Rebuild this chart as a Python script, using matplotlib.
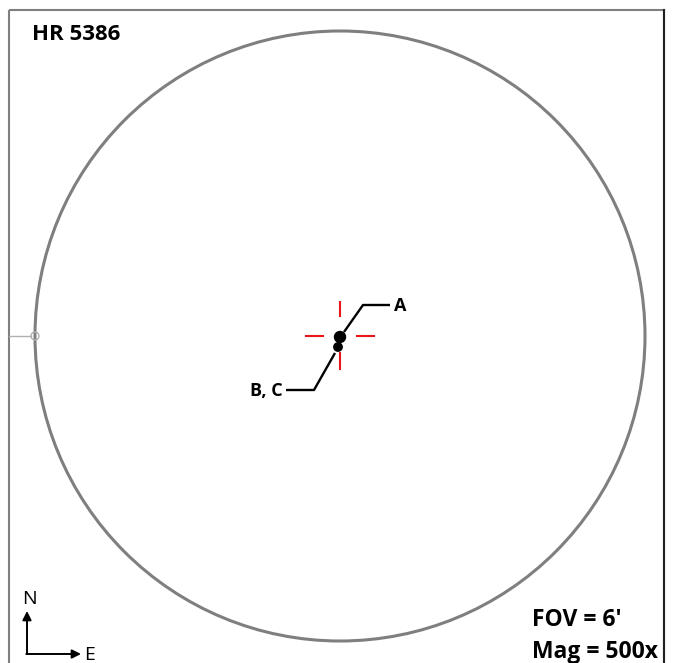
import matplotlib.pyplot as plt
from matplotlib.patches import Circle, Rectangle

# field of view in pixel-like units of the finder chart
fov_center = (340, 336)
fov_radius = 305

# stars: label, x, y, marker radius
star_names = ["A", "B, C"]
star_x = [340, 338]
star_y = [337, 347]
star_size = [5.5, 4.2]

# leader lines (elbow point and end of horizontal part)
leader_elbow = [(363, 305), (314, 390)]
leader_end = [(390, 305), (286, 390)]
leader_start = [(344, 332), (335, 353)]

fig = plt.figure(figsize=(6.73, 6.63), dpi=100)
ax = fig.add_axes([0, 0, 1, 1])
ax.set_xlim(0, 673)
ax.set_ylim(663, 0)
ax.set_aspect('equal')
ax.axis('off')

# frame
ax.add_patch(Rectangle((9, 10), 655, 665, fill=False, ec='#7f7f7f', lw=1.5))
ax.plot([664, 664], [10, 663], color='#222222', lw=1.5)

# eyepiece field
ax.add_patch(Circle(fov_center, fov_radius, fill=False, ec='#7f7f7f', lw=2.2))
ax.add_patch(Circle((fov_center[0] - fov_radius, fov_center[1]), 4, fill=False, ec='#b0b0b0', lw=1))
ax.plot([9, fov_center[0] - fov_radius - 4], [fov_center[1]] * 2, color='#b0b0b0', lw=1)

# red crosshair
cx, cy = fov_center
for x0, x1 in [(-34, -17), (17, 34)]:
    ax.plot([cx + x0, cx + x1], [cy, cy], color='#e8151b', lw=1.5)
for y0, y1 in [(-34, -20), (17, 33)]:
    ax.plot([cx, cx], [cy + y0, cy + y1], color='#e8151b', lw=1.5)

# leaders and labels
for name, s, e, t in zip(star_names, leader_start, leader_elbow, leader_end):
    ax.plot([s[0], e[0], t[0]], [s[1], e[1], t[1]], color='black', lw=1.7, solid_capstyle='butt')
ax.text(leader_end[0][0] + 4, leader_end[0][1] + 1, star_names[0], ha='left', va='center',
        fontsize=13, fontweight='bold', family='Open Sans')
ax.text(leader_end[1][0] - 3, leader_end[1][1] + 1, star_names[1], ha='right', va='center',
        fontsize=13, fontweight='bold', family='Open Sans')

# stars
for x, y, r in zip(star_x, star_y, star_size):
    ax.add_patch(Circle((x, y), r, color='black', zorder=5))

# titles and info
ax.text(32, 34, "HR 5386", fontsize=16, fontweight='bold', family='Open Sans', va='center', ha='left')
ax.text(532, 620, "FOV = 6'", fontsize=16.5, fontweight='bold', family='Open Sans', va='center', ha='left')
ax.text(532, 652, "Mag = 500x", fontsize=16.5, fontweight='bold', family='Open Sans', va='center', ha='left')

# compass
ax.annotate('', xy=(27, 611), xytext=(27, 654),
            arrowprops=dict(arrowstyle='-|>', color='black', lw=1.4, mutation_scale=13, shrinkA=0, shrinkB=0))
ax.annotate('', xy=(81, 654), xytext=(26.3, 654),
            arrowprops=dict(arrowstyle='-|>', color='black', lw=1.4, mutation_scale=13, shrinkA=0, shrinkB=0))
ax.text(29, 599, "N", fontsize=14, family='Open Sans', ha='center', va='center')
ax.text(90, 655, "E", fontsize=14, family='Open Sans', ha='center', va='center')

fig.savefig('out.png', dpi=100)
